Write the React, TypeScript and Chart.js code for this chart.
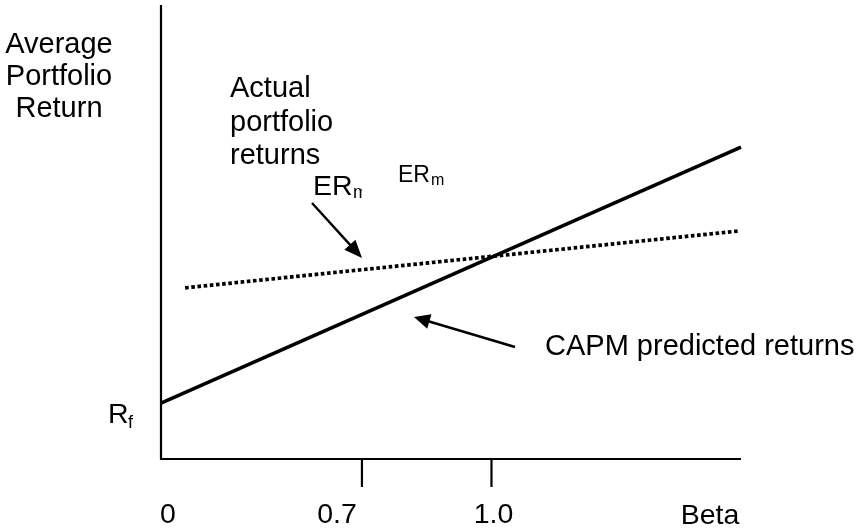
import { useEffect, useRef } from "react";
import { Chart, registerables } from "chart.js";

Chart.register(...registerables);

// ---- data (schematic units) ----
const capmBeta = [0, 1.755];
const capmReturn = [12.3, 68.7];
const actualBeta = [0.073, 1.746];
const actualReturn = [37.7, 50.2];
const betaTickPositions = [0, 0.608, 1.0];
const betaTickLabels = ["0", "0.7", "1.0"];
const betaTickMarks = [false, true, true];
const xAxisTitle = "Beta";
const yAxisTitle = ["Average", "Portfolio", "Return"];
const actualLabel = ["Actual", "portfolio", "returns"];
const capmLabel = "CAPM predicted returns";
const xMax = 1.755;
const yMax = 100;

const FONT = '"Liberation Sans", Arial, Helvetica, sans-serif';

function text(ctx: CanvasRenderingContext2D, s: string, x: number, y: number, size: number, align: CanvasTextAlign = "left") {
  ctx.font = `${size}px ${FONT}`;
  ctx.textAlign = align;
  ctx.textBaseline = "alphabetic";
  ctx.fillStyle = "#000";
  ctx.fillText(s, x, y);
}

function arrow(ctx: CanvasRenderingContext2D, x1: number, y1: number, x2: number, y2: number, headLen: number, headHalf: number) {
  const a = Math.atan2(y2 - y1, x2 - x1);
  const bx = x2 - headLen * Math.cos(a);
  const by = y2 - headLen * Math.sin(a);
  ctx.strokeStyle = "#000";
  ctx.fillStyle = "#000";
  ctx.lineWidth = 2.4;
  ctx.setLineDash([]);
  ctx.beginPath();
  ctx.moveTo(x1, y1);
  ctx.lineTo(bx + 1 * Math.cos(a), by + 1 * Math.sin(a));
  ctx.stroke();
  ctx.beginPath();
  ctx.moveTo(x2, y2);
  ctx.lineTo(bx - headHalf * Math.sin(a), by + headHalf * Math.cos(a));
  ctx.lineTo(bx + headHalf * Math.sin(a), by - headHalf * Math.cos(a));
  ctx.closePath();
  ctx.fill();
}

const diagramPlugin = {
  id: "diagram",
  afterDraw(chart: any) {
    const ctx: CanvasRenderingContext2D = chart.ctx;
    const area = chart.chartArea;
    const xs = chart.scales.x;
    const ys = chart.scales.y;
    ctx.save();
    // axes
    ctx.strokeStyle = "#000";
    ctx.lineWidth = 2.2;
    ctx.setLineDash([]);
    ctx.beginPath();
    ctx.moveTo(area.left, area.top);
    ctx.lineTo(area.left, area.bottom + 1);
    ctx.moveTo(area.left, area.bottom);
    ctx.lineTo(area.right, area.bottom);
    ctx.stroke();
    // ticks + labels
    const labelOffsets = [7, -25, 2];
    betaTickPositions.forEach((v, i) => {
      const px = xs.getPixelForValue(v);
      if (betaTickMarks[i]) {
        ctx.beginPath();
        ctx.moveTo(px, area.bottom);
        ctx.lineTo(px, area.bottom + 28);
        ctx.stroke();
      }
      text(ctx, betaTickLabels[i], px + labelOffsets[i], area.bottom + 64, 28.5, "center");
    });
    text(ctx, xAxisTitle, 710, area.bottom + 65, 28.5, "center");
    // y title
    yAxisTitle.forEach((s, i) => text(ctx, s, 59, 53 + i * 32, 29, "center"));
    // Rf
    const rfY = ys.getPixelForValue(capmReturn[0]);
    text(ctx, "R", 108, rfY + 20, 28.5);
    text(ctx, "f", 128, rfY + 25, 18);
    // actual label
    actualLabel.forEach((s, i) => text(ctx, s, 230, 97 + i * 33.5, 29));
    // ER_m (first, clipped subscript)
    text(ctx, "ER", 313, 195, 28.5);
    ctx.save();
    ctx.beginPath();
    ctx.rect(351, 170, 11, 40);
    ctx.clip();
    text(ctx, "m", 353, 198, 18);
    ctx.restore();
    // ER_m (second)
    text(ctx, "ER", 398, 182, 23);
    text(ctx, "m", 431, 185, 16);
    // CAPM label
    text(ctx, capmLabel, 545, 355, 29);
    // arrows
    arrow(ctx, 312, 203, 362, 258, 18, 7.5);
    arrow(ctx, 515, 347, 414, 317, 16, 7.5);
    ctx.restore();
  },
};

export default function App() {
  const ref = useRef<HTMLCanvasElement | null>(null);
  useEffect(() => {
    if (!ref.current) return;
    const chart = new Chart(ref.current, {
      type: "scatter",
      data: {
        datasets: [
          {
            label: "CAPM predicted returns",
            data: capmBeta.map((b, i) => ({ x: b, y: capmReturn[i] })),
            showLine: true,
            borderColor: "#000",
            borderWidth: 3.6,
            pointRadius: 0,
            fill: false,
            clip: false as any,
          },
          {
            label: "Actual portfolio returns",
            data: actualBeta.map((b, i) => ({ x: b, y: actualReturn[i] })),
            showLine: true,
            borderColor: "#000",
            borderWidth: 3.7,
            borderDash: [3.6, 2.6],
            borderCapStyle: "butt",
            pointRadius: 0,
            fill: false,
            clip: false as any,
          },
        ],
      },
      options: {
        responsive: true,
        maintainAspectRatio: false,
        animation: false,
        devicePixelRatio: 1,
        layout: { padding: { left: 161, right: 115, top: 5, bottom: 72 } },
        plugins: { legend: { display: false }, tooltip: { enabled: false } },
        scales: {
          x: { type: "linear", min: 0, max: xMax, display: false },
          y: { type: "linear", min: 0, max: yMax, display: false },
        },
      },
      plugins: [diagramPlugin],
    });
    return () => chart.destroy();
  }, []);
  return (
    <div style={{ position: "fixed", left: 0, top: 0, width: 856, height: 531, background: "#fff" }}>
      <canvas ref={ref} />
    </div>
  );
}
